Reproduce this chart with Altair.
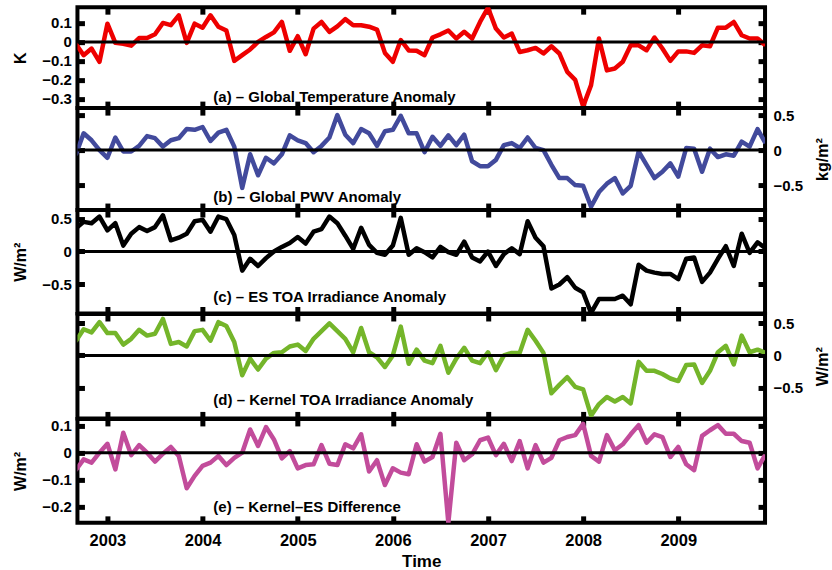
import altair as alt
import pandas as pd

FONT = "Liberation Sans"

# Monthly time axis, September 2002 to December 2009 (decimal years)
months = pd.date_range("2002-09-01", periods=88, freq="MS")
decimal_year = [d.year + (d.month - 1) / 12 for d in months]
year_ticks = [2003, 2004, 2005, 2006, 2007, 2008, 2009]
x_domain = [2002.685, 2009.912]

# (a) global temperature anomaly, K
temperature = [
    -0.01, -0.07, -0.035, -0.105, 0.096, -0.005, -0.01, -0.02, 0.02, 0.02,
    0.04, 0.10, 0.088, 0.14, -0.005, 0.096, 0.075, 0.14, 0.08, 0.06,
    -0.10, -0.07, -0.04, 0.0, 0.026, 0.05, 0.105, -0.047, 0.03, -0.065,
    0.07, 0.105, 0.053, 0.082, 0.12, 0.088, 0.088, 0.08, 0.065, -0.058,
    -0.105, 0.01, -0.045, -0.047, -0.07, 0.023, 0.04, 0.06, 0.018, 0.053,
    0.018, 0.105, 0.18, 0.07, 0.023, 0.044, -0.053, -0.044, -0.032, -0.061,
    -0.023, -0.061, -0.158, -0.2, -0.34, -0.228, 0.018, -0.15, -0.14, -0.105,
    -0.018, -0.018, -0.044, 0.023, -0.035, -0.1, -0.05, -0.05, -0.058, -0.018,
    -0.023, 0.075, 0.075, 0.105, 0.035, 0.018, 0.018, -0.018,
]

# (b) global precipitable water vapour anomaly, kg/m^2
pwv = [
    -0.07, 0.24, 0.14, 0.0, -0.11, 0.18, -0.02, -0.02, 0.06, 0.2,
    0.17, 0.05, 0.14, 0.17, 0.3, 0.29, 0.33, 0.13, 0.25, 0.29,
    0.05, -0.54, -0.06, -0.36, -0.11, -0.19, -0.06, 0.21, 0.14, 0.1,
    -0.03, 0.06, 0.18, 0.5, 0.22, 0.1, 0.3, 0.24, 0.06, 0.27,
    0.29, 0.49, 0.24, 0.24, -0.03, 0.19, 0.06, 0.21, 0.07, 0.22,
    -0.16, -0.23, -0.23, -0.14, 0.07, 0.1, 0.03, 0.18, 0.03, 0.0,
    -0.21, -0.4, -0.4, -0.5, -0.51, -0.81, -0.6, -0.48, -0.4, -0.62,
    -0.51, -0.02, -0.21, -0.4, -0.31, -0.19, -0.38, 0.03, 0.02, -0.31,
    0.02, -0.1, -0.06, -0.08, 0.12, 0.05, 0.3, 0.1,
]

# (c) ES top-of-atmosphere irradiance anomaly, W/m^2
es_toa = [
    0.35, 0.45, 0.43, 0.53, 0.32, 0.43, 0.09, 0.27, 0.37, 0.31,
    0.37, 0.55, 0.17, 0.21, 0.27, 0.46, 0.48, 0.3, 0.53, 0.49,
    0.25, -0.29, -0.11, -0.22, -0.1, 0.0, 0.07, 0.13, 0.22, 0.12,
    0.3, 0.34, 0.53, 0.43, 0.24, 0.04, 0.36, 0.1, -0.02, -0.05,
    0.09, 0.51, -0.05, 0.05, -0.01, -0.09, 0.07, -0.01, -0.05, 0.15,
    -0.09, -0.15, 0.0, -0.22, -0.04, 0.05, -0.04, 0.46, 0.21, 0.08,
    -0.56, -0.5, -0.39, -0.55, -0.62, -0.93, -0.72, -0.72, -0.72, -0.67,
    -0.8, -0.2, -0.29, -0.32, -0.34, -0.34, -0.42, -0.11, -0.09, -0.46,
    -0.32, -0.11, 0.08, -0.22, 0.27, -0.02, 0.14, 0.05,
]

# (d) kernel top-of-atmosphere irradiance anomaly, W/m^2
kernel_toa = [
    0.22, 0.41, 0.36, 0.52, 0.35, 0.35, 0.17, 0.26, 0.4, 0.31,
    0.34, 0.57, 0.18, 0.21, 0.14, 0.38, 0.4, 0.23, 0.52, 0.46,
    0.21, -0.31, -0.05, -0.22, -0.05, 0.04, 0.05, 0.14, 0.17, 0.07,
    0.26, 0.38, 0.5, 0.38, 0.26, 0.05, 0.43, 0.05, -0.03, -0.18,
    0.0, 0.45, -0.13, 0.09, -0.08, -0.12, 0.15, -0.27, -0.05, 0.12,
    -0.08, -0.12, 0.05, -0.23, 0.0, 0.04, 0.04, 0.4, 0.23, 0.04,
    -0.59, -0.46, -0.34, -0.49, -0.53, -0.94, -0.76, -0.65, -0.72, -0.65,
    -0.75, -0.1, -0.24, -0.24, -0.29, -0.36, -0.4, -0.15, -0.14, -0.43,
    -0.24, 0.05, 0.15, -0.14, 0.31, 0.05, 0.09, 0.04,
]

# (e) kernel minus ES difference, W/m^2
difference = [
    -0.065, -0.025, -0.037, 0.0, 0.033, -0.062, 0.074, -0.009, 0.028, 0.0,
    -0.033, -0.004, 0.021, -0.012, -0.132, -0.086, -0.049, -0.037, -0.012, -0.046,
    -0.019, 0.0, 0.086, 0.025, 0.095, 0.049, -0.021, 0.006, -0.058, -0.046,
    -0.043, 0.028, -0.041, -0.046, 0.031, 0.016, 0.068, -0.07, -0.028, -0.12,
    -0.058, -0.074, -0.08, 0.031, -0.033, -0.016, 0.07, -0.26, 0.037, -0.028,
    -0.006, 0.046, 0.056, -0.009, 0.033, -0.031, 0.043, -0.058, 0.028, -0.037,
    -0.019, 0.046, 0.058, 0.065, 0.107, -0.012, -0.033, 0.065, 0.009, 0.031,
    0.068, 0.102, 0.037, 0.068, 0.058, -0.016, 0.021, -0.043, -0.065, 0.062,
    0.083, 0.102, 0.07, 0.07, 0.043, 0.037, -0.058, -0.006,
]

captions = [
    "(a) \u2013 Global Temperature Anomaly",
    "(b) \u2013 Global PWV Anomaly",
    "(c) \u2013 ES TOA Irradiance Anomaly",
    "(d) \u2013 Kernel TOA Irradiance Anomaly",
    "(e) \u2013 Kernel\u2013ES Difference",
]
units = ["K", "kg/m\u00b2", "W/m\u00b2", "W/m\u00b2", "W/m\u00b2"]
y_ticks = [
    [-0.3, -0.2, -0.1, 0, 0.1],
    [-0.5, 0, 0.5],
    [-0.5, 0, 0.5],
    [-0.5, 0, 0.5],
    [-0.2, -0.1, 0, 0.1],
]

# Panel styling / layout
series_list = [temperature, pwv, es_toa, kernel_toa, difference]
colors = ["#ee0000", "#424a9c", "#000000", "#74b52a", "#c24c9b"]
y_domains = [[-0.349, 0.183], [-0.857, 0.6], [-0.94, 0.629], [-0.984, 0.648], [-0.26, 0.125]]
label_side = ["left", "right", "left", "right", "left"]
heights = [101, 102, 103.5, 104.5, 104]
caption_y = [90, 89, 87.5, 86.5, 88.5]
PLOT_W = 688

tick_style = dict(domain=False, grid=False, ticks=True, tickSize=7, tickWidth=5,
                  tickColor="black", offset=-7)


def make_panel(k):
    df = pd.DataFrame({"t": decimal_year, "v": series_list[k]})
    xs = alt.Scale(domain=x_domain, nice=False, zero=False)
    ys = alt.Scale(domain=y_domains[k], nice=False, zero=False)
    last = k == len(series_list) - 1
    left = label_side[k] == "left"

    xb = dict(orient="bottom", values=year_ticks, format="d", labels=last,
              labelFontSize=16.5, labelFontWeight="bold", labelPadding=10,
              labelColor="black", **tick_style)
    if last:
        xb.update(title="Time", titleFontSize=17, titleFontWeight="bold",
                  titlePadding=4, titleColor="black")
    else:
        xb.update(title=None)
    xt = dict(orient="top", values=year_ticks, labels=False, title=None, **tick_style)

    yl = dict(orient="left", values=y_ticks[k], format=".1~f", labels=left,
              labelFontSize=15, labelFontWeight="bold", labelPadding=6,
              labelColor="black", minExtent=48, maxExtent=48, **tick_style)
    if left:
        yl.update(title=units[k], titleFontSize=16, titleFontWeight="bold",
                  titlePadding=8, titleColor="black")
    else:
        yl.update(title=None)
    yr = dict(orient="right", values=y_ticks[k], format=".1~f", labels=not left,
              labelFontSize=15, labelFontWeight="bold", labelPadding=8,
              labelColor="black", minExtent=40, maxExtent=40, **tick_style)
    if not left:
        yr.update(title=units[k], titleFontSize=16, titleFontWeight="bold",
                  titlePadding=16, titleAngle=270, titleBaseline="top",
                  titleColor="black")
    else:
        yr.update(title=None)

    ghost = alt.Chart(df).mark_line(opacity=0).encode(
        x=alt.X("t:Q", scale=xs, axis=alt.Axis(**xt)),
        y=alt.Y("v:Q", scale=ys, axis=alt.Axis(**yr)),
    )
    line = alt.Chart(df).mark_line(color=colors[k], strokeWidth=4.5, clip=True,
                                   strokeJoin="round").encode(
        x=alt.X("t:Q", scale=xs, axis=alt.Axis(**xb)),
        y=alt.Y("v:Q", scale=ys, axis=alt.Axis(**yl)),
    )
    zero = alt.Chart(pd.DataFrame({"z": [0.0]})).mark_rule(
        color="black", strokeWidth=3).encode(
        y=alt.Y("z:Q", scale=ys, axis=None))
    cap = alt.Chart(pd.DataFrame({"caption": [captions[k]]})).mark_text(
        align="left", baseline="middle", fontSize=15, fontWeight="bold",
        font=FONT, color="black").encode(
        x=alt.value(136), y=alt.value(caption_y[k]), text="caption:N")

    return (
        alt.layer(ghost, line, zero, cap)
        .resolve_axis(x="independent", y="independent")
        .properties(width=PLOT_W, height=heights[k])
    )


chart = (
    alt.vconcat(*[make_panel(k) for k in range(5)], spacing=0, bounds="flush")
    .properties(padding={"left": 10.5, "top": 2, "right": 0, "bottom": 5},
                background="white")
    .configure_view(stroke="black", strokeWidth=4)
    .configure_axis(labelFont=FONT, titleFont=FONT)
)

chart.save("out.html", embed_options={"renderer": "svg", "actions": False})
